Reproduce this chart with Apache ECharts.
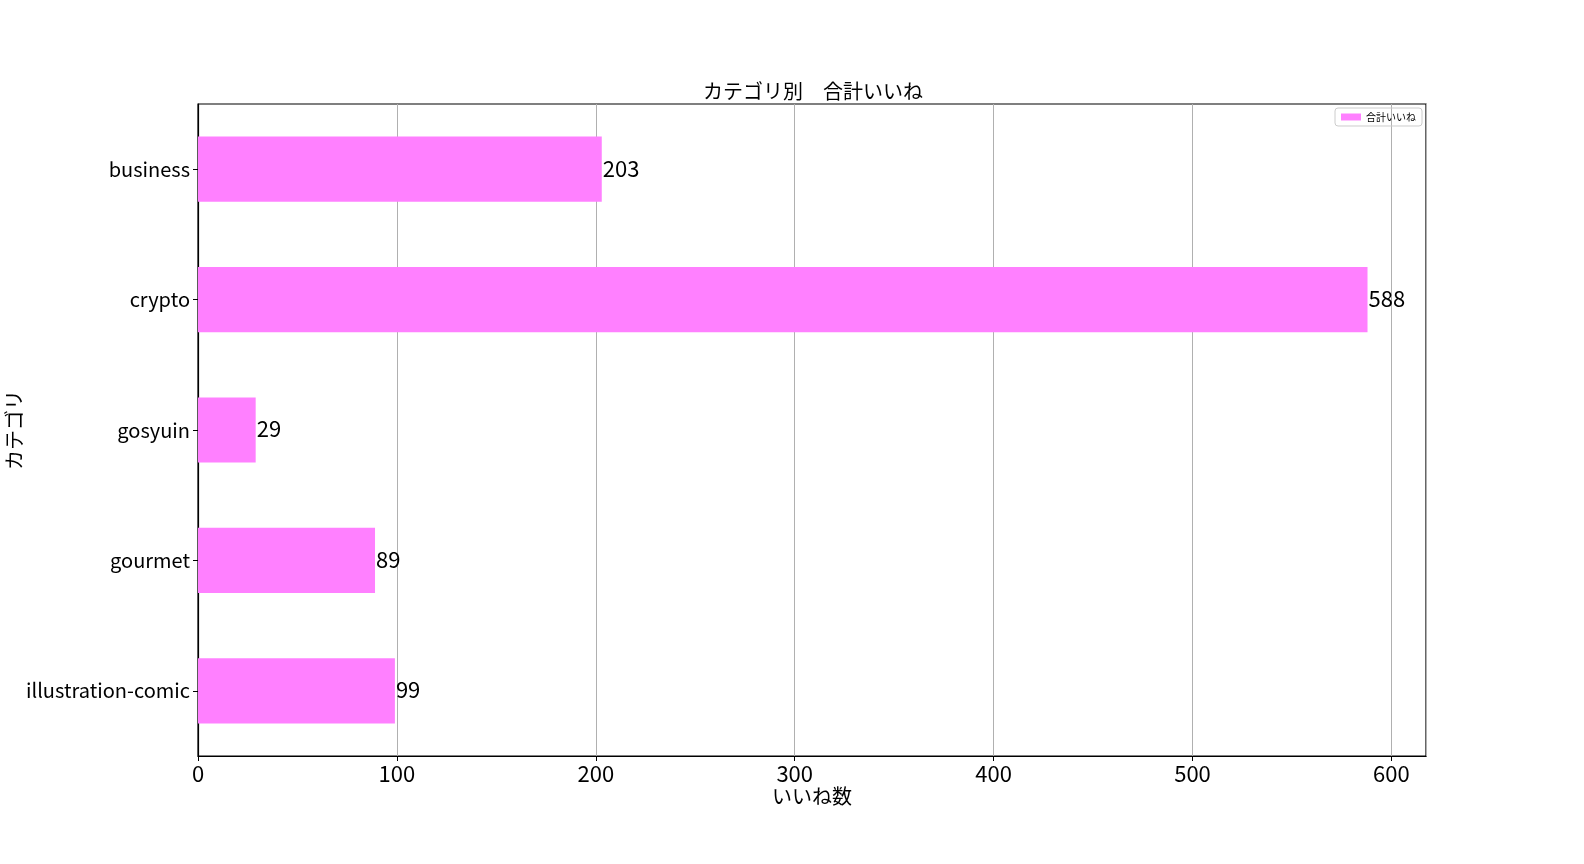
<!DOCTYPE html>
<html><head><meta charset="utf-8">
<script src="https://cdn.jsdelivr.net/npm/echarts@6/dist/echarts.min.js"></script>
<style>html,body{margin:0;padding:0;background:#fff}#c{width:1584px;height:864px}</style>
</head><body><div id="c"></div>
<script>
const categories = ['business', 'crypto', 'gosyuin', 'gourmet', 'illustration-comic'];
const likes = [203, 588, 29, 89, 99];
const xTicks = [0, 100, 200, 300, 400, 500, 600];
const seriesName = '合計いいね';
const FONT = '"Noto Sans CJK JP", sans-serif';

const chart = echarts.init(document.getElementById('c'));
chart.setOption({
  animation: false,
  textStyle: { fontFamily: FONT, color: '#000' },
  title: {
    text: 'カテゴリ別　合計いいね', left: 808, top: 76, textAlign: 'center',
    textStyle: { fontFamily: FONT, fontSize: 20, fontWeight: 'normal', color: '#000' }
  },
  legend: {
    data: [seriesName], right: 162, top: 108, orient: 'vertical',
    itemWidth: 20, itemHeight: 7, itemGap: 4,
    borderColor: '#ccc', borderWidth: 1, borderRadius: 3, padding: [4, 6],
    textStyle: { fontFamily: FONT, fontSize: 10, color: '#000' }, icon: 'rect'
  },
  grid: { left: 198, right: 158, top: 104, bottom: 108, containLabel: false, outerBoundsMode: 'none',
    show: true, borderColor: '#000', borderWidth: 1.2, backgroundColor: 'transparent' },
  xAxis: {
    type: 'value', min: 0, max: 617.4, interval: 100,
    name: 'いいね数', nameLocation: 'middle', nameGap: 30, nameMoveOverlap: false,
    nameTextStyle: { fontFamily: FONT, fontSize: 20, color: '#000' },
    axisLine: { show: true, lineStyle: { color: '#000', width: 1.2 } },
    axisTick: { show: true, length: 5, lineStyle: { color: '#000' }, inside: false },
    axisLabel: { fontFamily: FONT, fontSize: 22, color: '#000', margin: 7,
      showMaxLabel: false,
      formatter: v => xTicks.includes(v) ? String(v) : '' },
    splitLine: { show: true, lineStyle: { color: '#b0b0b0', width: 1 } }
  },
  yAxis: {
    type: 'category', data: categories, inverse: true,
    name: 'カテゴリ', nameLocation: 'middle', nameGap: 174, nameRotate: 90, nameMoveOverlap: false,
    nameTextStyle: { fontFamily: FONT, fontSize: 20, color: '#000' },
    axisLine: { show: true, lineStyle: { color: '#000', width: 1.2 } },
    axisTick: { show: true, alignWithLabel: true, length: 5, lineStyle: { color: '#000' } },
    axisLabel: { fontFamily: FONT, fontSize: 20, color: '#000', margin: 8 },
    splitLine: { show: false }
  },
  series: [{
    name: seriesName, type: 'bar', data: likes, barWidth: '50%',
    itemStyle: { color: '#ff80ff' },
    label: { show: true, position: 'right', distance: 1, fontFamily: FONT, fontSize: 22, color: '#000', offset: [0, -1] }
  }]
});
</script></body></html>
